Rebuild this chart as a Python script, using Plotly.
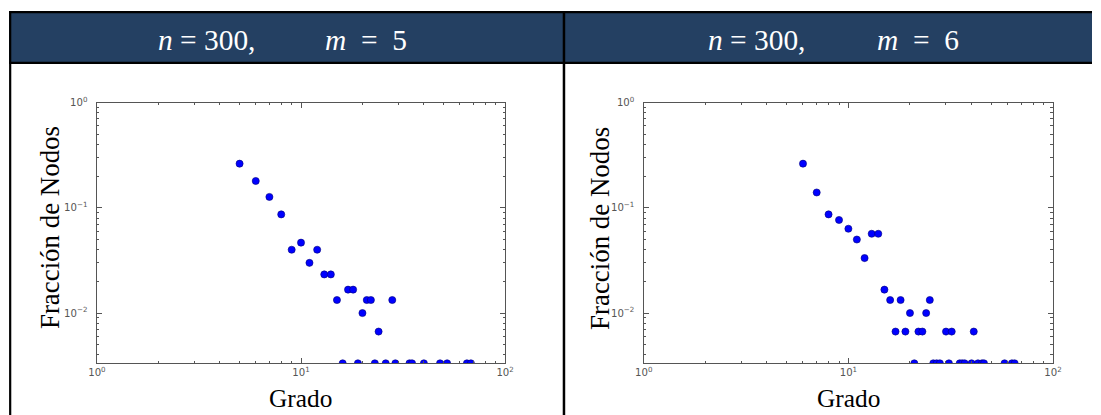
import plotly.graph_objects as go

W, H = 1101, 415

# ---------------- data ----------------
# Panel 1: n = 300, m = 5
deg_m5 = [5, 6, 7, 8, 9, 10, 11, 12, 13, 14, 15, 17, 18, 20, 21, 22, 24, 28,
          16, 19, 23, 26, 29, 34, 35, 40, 48, 52, 65, 68]
frac_m5 = [0.263, 0.18, 0.127, 0.0867, 0.04, 0.0467, 0.03, 0.04, 0.0233, 0.0233,
           0.0133, 0.0167, 0.0167, 0.01, 0.0133, 0.0133, 0.00667, 0.0133,
           0.00333, 0.00333, 0.00333, 0.00333, 0.00333, 0.00333, 0.00333,
           0.00333, 0.00333, 0.00333, 0.00333, 0.00333]

# Panel 2: n = 300, m = 6
deg_m6 = [6, 7, 8, 9, 10, 11, 12, 13, 14, 15, 16, 17, 18, 19, 20, 22, 23, 24, 25,
          30, 32, 41,
          21, 26, 27, 28, 31, 35, 36, 37, 40, 43, 45, 46, 58, 63, 65]
frac_m6 = [0.263, 0.14, 0.0867, 0.0767, 0.0633, 0.05, 0.0333, 0.0567, 0.0567,
           0.0167, 0.0133, 0.00667, 0.0133, 0.00667, 0.01, 0.00667, 0.00667,
           0.01, 0.0133, 0.00667, 0.00667, 0.00667,
           0.00333, 0.00333, 0.00333, 0.00333, 0.00333, 0.00333, 0.00333,
           0.00333, 0.00333, 0.00333, 0.00333, 0.00333, 0.00333, 0.00333,
           0.00333]

x_tickvals = [1, 10, 100]
x_ticktext = ["10<sup>0</sup>", "10<sup>1</sup>", "10<sup>2</sup>"]
y_tickvals = [1, 0.1, 0.01]
y_ticktext = ["10<sup>0</sup>&nbsp;&nbsp;", "10<sup>\u22121</sup>&nbsp;&nbsp;",
              "10<sup>\u22122</sup>&nbsp;&nbsp;"]
x_minor = [2, 3, 4, 5, 6, 7, 8, 9, 20, 30, 40, 50, 60, 70, 80, 90]
y_minor = [0.004, 0.005, 0.006, 0.007, 0.008, 0.009,
           0.02, 0.03, 0.04, 0.05, 0.06, 0.07, 0.08, 0.09,
           0.2, 0.3, 0.4, 0.5, 0.6, 0.7, 0.8, 0.9]

headers = [("<i>n</i> = 300,", "<i>m</i>&nbsp; = &nbsp;5"),
           ("<i>n</i> = 300,", "<i>m</i>&nbsp; = &nbsp;6")]
x_title = "Grado"
y_title = "Fracción de Nodos"

# ---------------- layout helpers ----------------
# The page is shown with an 8px body margin and fitted to the window width,
# so target picture pixels are converted back to figure pixels here.
S = W / (W + 16.0)
OFF = 8.0

def qx(p):
    return p / S - OFF

def fx(p):
    return max(qx(p), 0.0) / W

def fy(p):
    return 1 - max(p / S - OFF, 0.0) / H

def fs(size):
    return size / S

Y_RANGE = [-2.4776, 0]
X_RANGE = [0, 2]

AXCOL = "#555555"
tickfont = dict(family="DejaVu Sans", size=fs(10), color="#555555")

def axis(domain, anchor, tickvals, ticktext, minor_vals, rng):
    return dict(
        type="log", domain=domain, anchor=anchor, range=rng,
        showline=True, linecolor=AXCOL, linewidth=1, mirror="allticks",
        ticks="inside", ticklen=5, tickwidth=1, tickcolor=AXCOL,
        tickmode="array", tickvals=tickvals, ticktext=ticktext,
        minor=dict(ticks="inside", ticklen=2.5, tickcolor=AXCOL,
                   tickmode="array", tickvals=minor_vals, showgrid=False),
        showgrid=False, zeroline=False, tickfont=tickfont,
    )

fig = go.Figure()

marker = dict(color="#0000ff", size=fs(7), line=dict(color="#00007a", width=0.6))
fig.add_trace(go.Scatter(x=deg_m5, y=frac_m5, mode="markers", marker=marker,
                         xaxis="x", yaxis="y", showlegend=False))
fig.add_trace(go.Scatter(x=deg_m6, y=frac_m6, mode="markers", marker=marker,
                         xaxis="x2", yaxis="y2", showlegend=False))

ydom = [fy(365), fy(103)]
fig.update_layout(
    width=W, height=H, autosize=False,
    margin=dict(l=0, r=0, t=0, b=0, pad=0),
    paper_bgcolor="white", plot_bgcolor="white",
    xaxis=axis([fx(96), fx(505)], "y", x_tickvals, x_ticktext, x_minor, X_RANGE),
    yaxis=axis(ydom, "x", y_tickvals, y_ticktext, y_minor, Y_RANGE),
    xaxis2=axis([fx(644), fx(1054)], "y2", x_tickvals, x_ticktext, x_minor, X_RANGE),
    yaxis2=axis(ydom, "x2", y_tickvals, y_ticktext, y_minor, Y_RANGE),
)

# ---------------- table-like frame ----------------
LW = 2.2
shapes = [
    dict(type="rect", xref="paper", yref="paper", x0=0, x1=1,
         y0=fy(63), y1=fy(12), fillcolor="#244062", line=dict(width=0), layer="below"),
    dict(type="line", xref="paper", yref="paper", x0=0, x1=1,
         y0=fy(12), y1=fy(12), line=dict(color="black", width=LW)),
    dict(type="line", xref="paper", yref="paper", x0=0, x1=1,
         y0=fy(63), y1=fy(63), line=dict(color="black", width=LW)),
    dict(type="line", xref="paper", yref="paper", x0=1.2 / W, x1=1.2 / W,
         y0=fy(11), y1=0, line=dict(color="black", width=LW)),
    dict(type="line", xref="paper", yref="paper", x0=fx(564), x1=fx(564),
         y0=fy(11), y1=0, line=dict(color="black", width=2.5)),
]
fig.update_layout(shapes=shapes)

hfont = dict(family="Liberation Serif", size=fs(29), color="white")
ann = []
for (t1, t2), xn, xm in zip(headers, [155, 706], [323, 876]):
    ann.append(dict(text=t1, x=fx(xn), y=fy(40), xref="paper", yref="paper",
                    xanchor="left", yanchor="middle", showarrow=False, font=hfont))
    ann.append(dict(text=t2, x=fx(xm), y=fy(40), xref="paper", yref="paper",
                    xanchor="left", yanchor="middle", showarrow=False, font=hfont))

xfont = dict(family="Liberation Serif", size=fs(25), color="black")
yfont = dict(family="Liberation Serif", size=fs(26.5), color="black")
for cx, ylx in [(300, 49), (849, 600)]:
    ann.append(dict(text=x_title, x=fx(cx), y=fy(400), xref="paper", yref="paper",
                    xanchor="center", yanchor="middle", showarrow=False, font=xfont))
    ann.append(dict(text=y_title, x=fx(ylx), y=fy(229), xref="paper", yref="paper",
                    xanchor="center", yanchor="middle", showarrow=False, font=yfont,
                    textangle=-90))
fig.update_layout(annotations=ann)

fig.write_html("out.html")
